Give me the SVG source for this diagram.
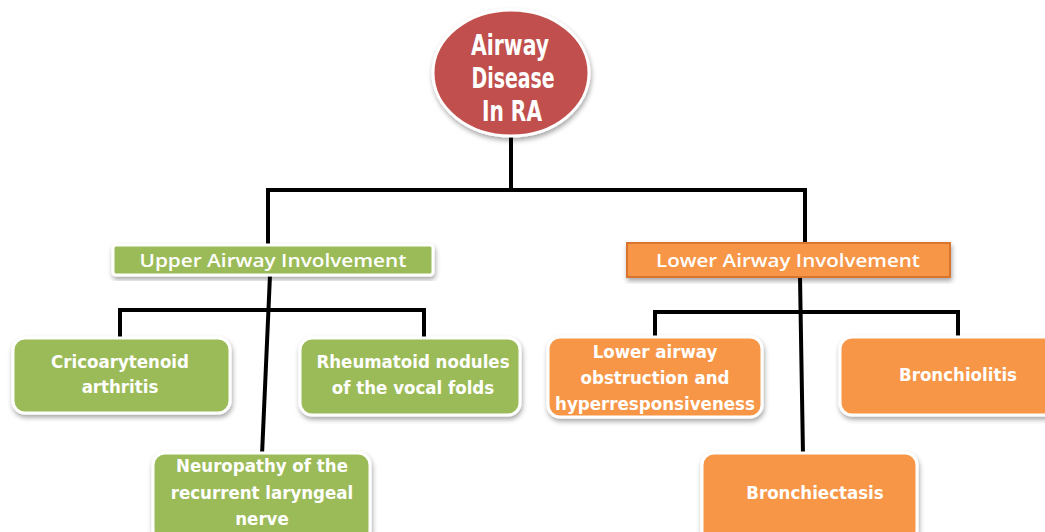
<svg xmlns="http://www.w3.org/2000/svg" width="1045" height="532" viewBox="0 0 1045 532">
<defs>
<filter id="sh" x="-10%" y="-10%" width="125%" height="130%">
<feDropShadow dx="1" dy="3" stdDeviation="2.5" flood-color="#000" flood-opacity="0.35"/>
</filter>
</defs>
<style>
.g{fill:#9BBB59;stroke:#fff;stroke-width:3;filter:url(#sh)}
.o{fill:#F79646;stroke:#fff;stroke-width:3;filter:url(#sh)}
.t{font-family:"DejaVu Sans Condensed","DejaVu Sans",sans-serif;font-stretch:condensed;font-weight:bold;font-size:18.5px;fill:#fff;text-anchor:middle}
.r{font-size:29px}
.h{font-family:"Open Sans","Liberation Sans",sans-serif;font-weight:600;font-size:18px;fill:#fff;text-anchor:middle}
.c{stroke:#000;stroke-width:4;fill:none}
</style>
<g id="connectors">
<path class="c" d="M511 137 V190 M266 190 H807 M268 188 V246 M805 188 V244"/>
<path class="c" d="M270 275 L262 455 M120 310 H426 M120 308 V340 M424 308 V338"/>
<path class="c" d="M800 277 L803 455 M655 312 H960 M655 310 V340 M958 310 V338"/>
</g>
<g id="root">
<ellipse cx="511" cy="73" rx="78" ry="63" fill="#C0504D" stroke="#fff" stroke-width="3" filter="url(#sh)"/>
<text class="t r" x="510" y="55" textLength="78" lengthAdjust="spacingAndGlyphs">Airway</text>
<text class="t r" x="513" y="88" textLength="83" lengthAdjust="spacingAndGlyphs">Disease</text>
<text class="t r" x="512" y="121" textLength="60" lengthAdjust="spacingAndGlyphs">In RA</text>
</g>
<g id="upper">
<rect class="g" x="113" y="245" width="320" height="30" rx="3"/>
<text class="h" x="273" y="267" textLength="267" lengthAdjust="spacingAndGlyphs">Upper Airway Involvement</text>
</g>
<g id="lower">
<rect x="627" y="243" width="323" height="34" fill="#F79646" stroke="#D9742F" stroke-width="2" filter="url(#sh)"/>
<text class="h" x="788" y="267" textLength="264" lengthAdjust="spacingAndGlyphs">Lower Airway Involvement</text>
</g>
<g id="crico">
<rect class="g" x="13" y="338" width="217" height="75" rx="12"/>
<text class="t" x="120" y="368">Cricoarytenoid</text>
<text class="t" x="120" y="393">arthritis</text>
</g>
<g id="rheum">
<rect class="g" x="300" y="338" width="220" height="77" rx="12"/>
<text class="t" x="413" y="368">Rheumatoid nodules</text>
<text class="t" x="413" y="394">of the vocal folds</text>
</g>
<g id="neuro">
<rect class="g" x="153" y="453" width="217" height="90" rx="12"/>
<text class="t" x="262" y="472">Neuropathy of the</text>
<text class="t" x="262" y="499">recurrent laryngeal</text>
<text class="t" x="262" y="525">nerve</text>
</g>
<g id="lao">
<rect class="o" x="548" y="337" width="214" height="80" rx="12"/>
<text class="t" x="655" y="358">Lower airway</text>
<text class="t" x="655" y="384">obstruction and</text>
<text class="t" x="655" y="410" textLength="200" lengthAdjust="spacingAndGlyphs">hyperresponsiveness</text>
</g>
<g id="bronchiolitis">
<rect class="o" x="840" y="337" width="220" height="78" rx="12"/>
<text class="t" x="958" y="381">Bronchiolitis</text>
</g>
<g id="bronchiectasis">
<rect class="o" x="702" y="453" width="215" height="90" rx="12"/>
<text class="t" x="815" y="499">Bronchiectasis</text>
</g>
</svg>
